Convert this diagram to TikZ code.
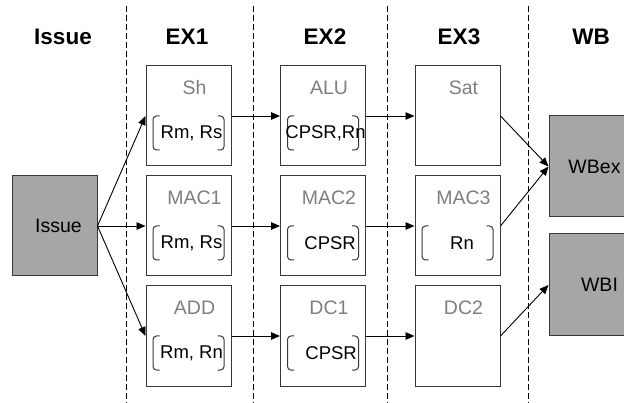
\documentclass[tikz,border=0pt]{standalone}
\usepackage{fontspec}
\setmainfont{Liberation Sans}
\usetikzlibrary{arrows.meta,positioning,calc}
\definecolor{stagefill}{HTML}{A6A6A6}
\definecolor{unitname}{HTML}{7F7F7F}
\definecolor{edge}{HTML}{383838}
\tikzset{
  unit/.style={draw=edge, line width=1pt, fill=white, minimum width=85pt, minimum height=100pt, inner sep=0pt},
  wbunit/.style={draw=edge, line width=1pt, fill=stagefill, minimum width=101pt, minimum height=101pt,
    inner sep=0pt, font=\fontsize{19.5}{22}\selectfont},
  head/.style={font=\fontsize{22.5}{26}\selectfont\bfseries},
  uname/.style={text=unitname, font=\fontsize{19.5}{22}\selectfont, inner sep=0pt},
  regs/.style={font=\fontsize{18.5}{21}\selectfont, inner sep=0pt},
  bracket/.style={draw=edge, line width=1pt, rounded corners=3.5pt},
  flow/.style={-{Triangle[length=9pt,width=7.5pt]}, line width=0.9pt},
  lane/.style={dash pattern=on 6pt off 3pt, line width=0.9pt},
}

\begin{document}
\begin{tikzpicture}[x=1pt,y=-1pt]
\useasboundingbox (0,0) rectangle (624,403);

% Stage lanes and headings
\foreach \x in {126,253,387,528}
  \draw[lane] (\x,6) -- (\x,403);
\foreach \x/\t in {63/Issue,187/EX1,325/EX2,459/EX3,591/WB}
  \node[head] (hd\t) at (\x,37) {\t};

% Issue and write-back units
\node[wbunit, minimum width=85pt, minimum height=100pt] (issue) at (54.5,226) {\hspace{8pt}Issue};
\node[wbunit] (wbex) at (599.5,166.5) {};
\node[wbunit, fill=none, draw=none, minimum size=0pt, anchor=east] (wbex-name) at (621,167) {WBex};
\node[wbunit, minimum height=102pt] (wbl) at (599.5,285) {WBI};

% Execute units, one row per pipe
\node[unit] (sh)   at (188.5,116) {};
\node[unit] (alu)  at (323,116)   {};
\node[unit] (sat)  at (457.5,116) {};
\node[unit] (mac1) at (188.5,226) {};
\node[unit] (mac2) at (323,226)   {};
\node[unit] (mac3) at (457.5,226) {};
\node[unit] (add)  at (188.5,336) {};
\node[unit] (dc1)  at (323,336)   {};
\node[unit] (dc2)  at (457.5,336) {};

\foreach \u/\t in {sh/Sh,alu/ALU,sat/Sat,mac1/MAC1,mac2/MAC2,mac3/MAC3,add/ADD,dc1/DC1,dc2/DC2}
  \node[uname] (\u-name) at ($(\u.center)+(6,-28)$) {\t};

% Register brackets
\foreach \u in {sh,alu,mac1,mac2,mac3,add,dc1} {
  \draw[bracket] ($(\u.center)+(-29,0)$) -- ($(\u.center)+(-35.5,0)$)
    -- ($(\u.center)+(-35.5,34)$) -- ($(\u.center)+(-29,34)$);
  \draw[bracket] ($(\u.center)+(29,0)$) -- ($(\u.center)+(35.5,0)$)
    -- ($(\u.center)+(35.5,34)$) -- ($(\u.center)+(29,34)$);
}
\node[regs] (sh-regs)   at ($(sh.center)+(3,17)$)   {Rm, Rs};
\node[regs] (alu-regs)  at ($(alu.center)+(2.5,17)$) {CPSR,Rn};
\node[regs] (mac1-regs) at ($(mac1.center)+(3,17)$) {Rm, Rs};
\node[regs, anchor=east] (mac2-regs) at ($(mac2.center)+(33,17)$) {CPSR};
\node[regs] (mac3-regs) at ($(mac3.center)+(4.5,17)$) {Rn};
\node[regs] (add-regs)  at ($(add.center)+(3,17)$)  {Rm, Rn};
\node[regs, anchor=east] (dc1-regs) at ($(dc1.center)+(34,17)$) {CPSR};

% Flow through the pipes
\draw[flow] (issue.east) -- (sh.west);
\draw[flow] (issue.east) -- (mac1.west);
\draw[flow] (issue.east) -- (add.west);
\draw[flow] (sh.east) -- (alu.west);
\draw[flow] (alu.east) -- (sat.west);
\draw[flow] (mac1.east) -- (mac2.west);
\draw[flow] (mac2.east) -- (mac3.west);
\draw[flow] (add.east) -- (dc1.west);
\draw[flow] (dc1.east) -- (dc2.west);
\draw[flow] (sat.east) -- (wbex.west);
\draw[flow] (mac3.east) -- (wbex.west);
\draw[flow] (dc2.east) -- (wbl.west);

\end{tikzpicture}
\end{document}
